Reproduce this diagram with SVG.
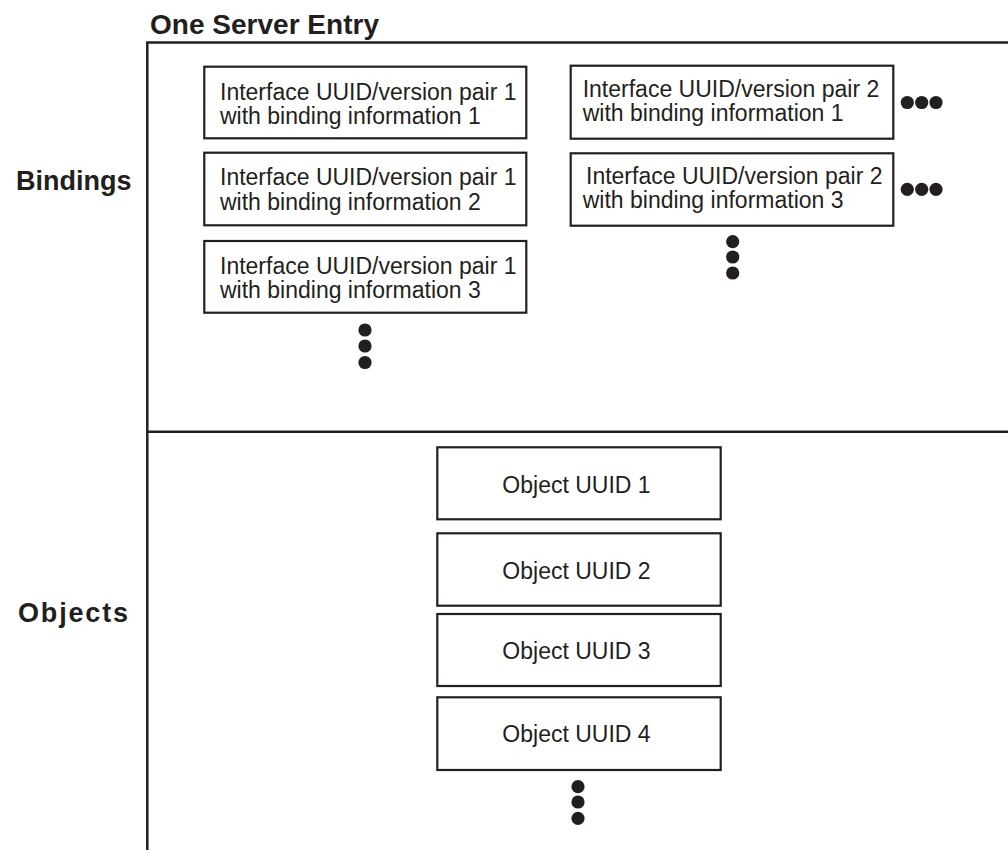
<svg xmlns="http://www.w3.org/2000/svg" width="1008" height="850" viewBox="0 0 1008 850">
<style>
text{font-family:"Liberation Sans",Arial,Helvetica,sans-serif;fill:#231f20}
.lbl{font-size:27px;font-weight:bold}
.ttl{font-size:28px;font-weight:bold}
.t{font-size:23px}
.box{fill:#fff;stroke:#231f20;stroke-width:2.2}
.frame{stroke:#231f20;stroke-width:2.5;fill:none}
.dot{fill:#231f20}
</style>
<rect width="1008" height="850" fill="#fff"/>
<g id="frame">
<text class="ttl" x="150" y="34" textLength="229" lengthAdjust="spacing">One Server Entry</text>
<path class="frame" d="M147.3 850 V42.5 H1008 M147.3 431.7 H1008"/>
<text class="lbl" x="16" y="190">Bindings</text>
<text class="lbl" x="18" y="622" textLength="110" lengthAdjust="spacing">Objects</text>
</g>
<g id="b11">
<rect class="box" x="204.3" y="66.7" width="322" height="71.6"/>
<text class="t" x="220" y="99.5">Interface UUID/version pair 1</text>
<text class="t" x="220" y="124">with binding information 1</text>
</g>
<g id="b12">
<rect class="box" x="204.3" y="152.7" width="322" height="72.6"/>
<text class="t" x="220" y="185">Interface UUID/version pair 1</text>
<text class="t" x="220" y="209.5">with binding information 2</text>
</g>
<g id="b13">
<rect class="box" x="204.3" y="241" width="322" height="71.7"/>
<text class="t" x="220" y="273.5">Interface UUID/version pair 1</text>
<text class="t" x="220" y="298">with binding information 3</text>
</g>
<g id="b21">
<rect class="box" x="570.7" y="65.7" width="322.6" height="73"/>
<text class="t" x="582.7" y="96.7">Interface UUID/version pair 2</text>
<text class="t" x="582.7" y="121">with binding information 1</text>
</g>
<g id="b23">
<rect class="box" x="570.7" y="153.3" width="322.6" height="72.4"/>
<text class="t" x="586" y="183.5">Interface UUID/version pair 2</text>
<text class="t" x="582.7" y="208">with binding information 3</text>
</g>
<g id="o1">
<rect class="box" x="437.3" y="447.3" width="283.4" height="72"/>
<text class="t" x="576.5" y="492.7" text-anchor="middle">Object UUID 1</text>
</g>
<g id="o2">
<rect class="box" x="437.3" y="533.3" width="283.4" height="72.4"/>
<text class="t" x="576.5" y="578.5" text-anchor="middle">Object UUID 2</text>
</g>
<g id="o3">
<rect class="box" x="437.3" y="614" width="283.4" height="72"/>
<text class="t" x="576.5" y="659" text-anchor="middle">Object UUID 3</text>
</g>
<g id="o4">
<rect class="box" x="437.3" y="697.3" width="283.4" height="72.7"/>
<text class="t" x="576.5" y="741.7" text-anchor="middle">Object UUID 4</text>
</g>
<g id="connectors">
<g id="dots-r1" class="dot"><circle cx="907.3" cy="102.5" r="6.6"/><circle cx="921.7" cy="102.5" r="6.6"/><circle cx="936" cy="102.5" r="6.6"/></g>
<g id="dots-r2" class="dot"><circle cx="907.3" cy="189.3" r="6.6"/><circle cx="921.7" cy="189.3" r="6.6"/><circle cx="936" cy="189.3" r="6.6"/></g>
<g id="dots-v2" class="dot"><circle cx="732.7" cy="241.7" r="6.6"/><circle cx="732.7" cy="257" r="6.6"/><circle cx="732.7" cy="273" r="6.6"/></g>
<g id="dots-v1" class="dot"><circle cx="365" cy="330" r="6.6"/><circle cx="365" cy="346" r="6.6"/><circle cx="365" cy="362.5" r="6.6"/></g>
<g id="dots-vo" class="dot"><circle cx="578" cy="786.7" r="6.6"/><circle cx="578" cy="802" r="6.6"/><circle cx="578" cy="818.3" r="6.6"/></g>
</g>
</svg>
